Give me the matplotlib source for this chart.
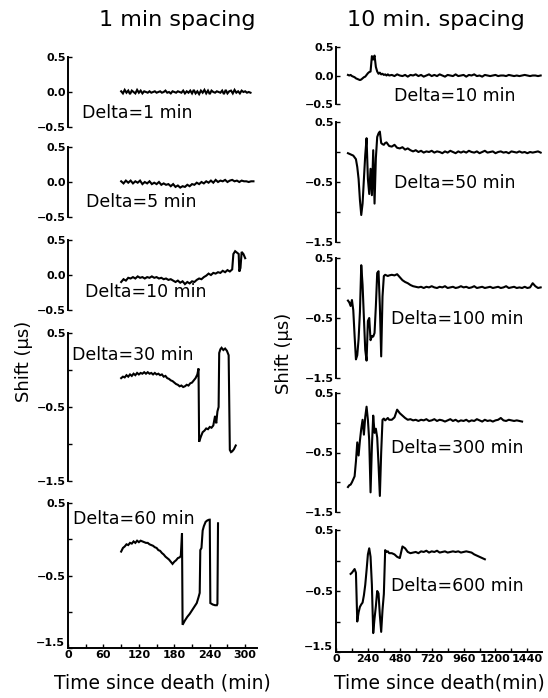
import numpy as np
import matplotlib
matplotlib.use("Agg")
import matplotlib.pyplot as plt
from matplotlib.ticker import FixedLocator
from matplotlib.transforms import ScaledTranslation

# ---------------- data: left column (1 min spacing) ----------------
L1_t = np.arange(90, 312, 3)
L1_v = [0.01,-0.02,0.03,-0.01,0.02,-0.03,0.02,0.00,-0.02,0.03,
        -0.01,0.02,-0.02,0.01,0.00,-0.01,0.01,-0.01,0.00,0.01,
        -0.01,0.00,0.01,-0.01,0.00,0.02,-0.01,0.00,-0.02,0.01,
        0.00,-0.01,0.01,0.00,-0.01,0.02,-0.02,0.01,-0.01,0.02,
        -0.02,0.03,-0.02,0.01,-0.03,0.02,-0.01,0.03,-0.02,0.02,
        -0.03,0.02,0.00,-0.01,0.01,0.00,-0.01,0.02,-0.03,0.03,
        -0.02,0.01,0.02,-0.02,0.03,-0.01,0.01,-0.02,0.02,0.00,
        0.01,-0.01,0.00,-0.01]

L2_t = np.arange(90, 318, 4)
L2_v = [0.01,-0.02,0.02,-0.01,0.02,-0.02,0.01,-0.01,0.02,-0.03,
        0.00,-0.02,0.01,-0.03,-0.01,-0.03,0.00,-0.04,-0.02,-0.04,
        -0.03,-0.06,-0.03,-0.07,-0.05,-0.08,-0.06,-0.07,-0.04,-0.06,
        -0.03,-0.04,-0.01,-0.03,0.00,-0.02,0.01,-0.01,0.02,-0.01,
        0.03,0.00,0.02,0.01,0.03,0.00,0.02,0.03,0.01,0.02,
        0.00,0.02,0.01,0.01,0.00,0.01,0.01]

L3_t = list(range(90, 278, 4)) + [278, 280, 283, 286, 289, 290, 292, 294, 297, 300]
L3_v = [-0.10,-0.06,-0.08,-0.04,-0.05,-0.03,-0.05,-0.02,-0.04,-0.03,
        -0.05,-0.03,-0.04,-0.02,-0.04,-0.03,-0.05,-0.04,-0.06,-0.05,
        -0.07,-0.06,-0.08,-0.10,-0.08,-0.11,-0.09,-0.13,-0.10,-0.12,
        -0.09,-0.10,-0.07,-0.05,-0.06,-0.03,-0.01,0.02,0.00,0.03,
        0.02,0.04,0.03,0.06,0.04,0.07,0.05,
        0.08,0.30,0.34,0.32,0.30,0.05,0.10,0.33,0.30,0.24]

L4_t = list(range(90, 220, 3)) + [221, 222, 225, 228, 231, 234, 237, 240, 243, 246, 249,
                                  251, 253, 255, 256, 258, 260, 263, 266, 269, 272,
                                  274, 276, 278, 281, 284]
L4_v = [-0.11,-0.09,-0.10,-0.07,-0.09,-0.06,-0.08,-0.05,-0.07,-0.04,
        -0.06,-0.04,-0.05,-0.03,-0.05,-0.03,-0.05,-0.04,-0.06,-0.04,
        -0.06,-0.05,-0.07,-0.06,-0.09,-0.08,-0.11,-0.12,-0.14,-0.15,
        -0.17,-0.19,-0.20,-0.22,-0.21,-0.23,-0.22,-0.20,-0.21,-0.18,
        -0.17,-0.14,-0.11,-0.06,0.02,
        -0.97,-0.90,-0.84,-0.82,-0.79,-0.80,-0.77,-0.78,-0.75,-0.62,
        -0.72,-0.56,-0.50,0.23,0.28,0.30,0.27,0.29,0.26,0.20,
        -1.08,-1.11,-1.10,-1.07,-1.02]

L5_t = list(range(90, 190, 3)) + [191, 193, 194, 198, 202, 206, 210, 214, 218, 221, 223,
                                  224, 226, 228, 230, 233, 236, 239, 240, 241, 245,
                                  249, 252, 253, 254]
L5_v = [-0.17,-0.12,-0.10,-0.07,-0.08,-0.05,-0.06,-0.03,-0.05,-0.02,
        -0.04,-0.02,-0.03,-0.04,-0.05,-0.05,-0.07,-0.08,-0.09,-0.11,
        -0.12,-0.15,-0.16,-0.19,-0.21,-0.24,-0.26,-0.28,-0.31,-0.34,
        -0.31,-0.29,-0.26,-0.25,
        -0.23,0.08,-1.18,-1.12,-1.07,-1.03,-0.98,-0.93,-0.88,-0.80,
        -0.74,-0.15,-0.12,0.12,0.18,0.24,0.26,0.27,0.27,-0.88,
        -0.90,-0.91,-0.91,-0.89,0.22]

# ---------------- data: right column (10 min spacing) ----------------
R_early_t = list(range(90, 410, 10))
R1_t = R_early_t + list(range(420, 1560, 20))
R1_v = [0.01,0.00,0.01,-0.01,-0.02,-0.03,-0.05,-0.06,-0.07,-0.08,
        -0.07,-0.05,-0.03,-0.02,0.01,0.04,0.06,0.07,0.34,0.28,
        0.35,0.15,0.07,0.03,0.05,0.02,0.03,0.01,0.02,0.00,0.02,0.00,
        0.01,-0.01,0.02,0.00,-0.01,0.01,-0.02,0.01,0.00,0.02,
        -0.01,0.01,-0.02,0.00,0.02,-0.01,0.01,-0.01,0.02,0.00,
        -0.02,0.01,0.00,-0.01,0.02,-0.01,0.00,0.01,-0.02,0.01,
        0.00,0.02,-0.01,0.00,-0.02,0.01,0.00,-0.01,0.00,0.01,
        -0.01,0.00,0.00,-0.01,0.01,0.00,-0.01,0.00,-0.01,0.00,
        0.01,0.00,-0.01,0.00,0.00,-0.01,0.00]

R2_t = R_early_t + list(range(420, 1560, 20))
R2_v = [-0.02,-0.03,-0.04,-0.05,-0.06,-0.09,-0.12,-0.25,-0.45,-0.80,
        -1.05,-0.86,-0.45,-0.05,0.23,-0.45,-0.70,-0.28,-0.72,0.03,
        -0.86,-0.10,0.25,0.31,0.34,0.15,0.13,0.12,0.15,0.16,0.13,0.10,
        0.09,0.12,0.07,0.06,0.08,0.04,0.06,0.03,0.01,0.03,
        0.00,0.02,-0.01,0.01,0.00,0.02,-0.01,0.01,0.00,-0.02,
        0.01,-0.01,0.02,0.00,-0.02,0.01,-0.01,0.01,-0.01,0.02,
        0.00,-0.01,0.01,-0.02,0.00,0.02,-0.01,0.00,0.01,-0.02,
        0.00,0.01,-0.01,0.00,-0.02,0.01,0.00,-0.01,0.01,-0.01,
        0.00,-0.02,0.00,-0.01,0.00,0.01,-0.01]

R3_t = R_early_t + list(range(420, 1560, 20))
R3_v = [-0.21,-0.24,-0.30,-0.20,-0.37,-0.80,-1.19,-1.12,-0.85,-0.40,
        0.38,0.05,-0.50,-1.03,-1.21,-0.55,-0.50,-0.87,-0.80,-0.81,
        -0.75,-0.30,0.25,0.28,-0.30,-1.14,-0.14,0.20,0.22,0.21,0.20,0.21,
        0.22,0.21,0.23,0.18,0.13,0.10,0.08,0.05,0.03,0.02,
        0.01,0.02,0.00,0.02,0.01,0.03,0.01,0.00,0.02,0.01,
        0.03,0.00,0.01,0.02,0.00,0.01,0.03,0.01,0.02,0.00,
        0.01,0.03,0.00,0.01,0.02,0.00,0.01,0.02,0.00,0.01,
        0.02,0.00,0.01,0.03,0.00,0.01,0.02,0.00,0.01,0.00,
        0.02,0.00,0.01,0.08,0.03,0.00,0.01]

R4_t = R_early_t + list(range(420, 1410, 20))
R4_v = [-1.08,-1.05,-1.04,-1.00,-0.95,-0.90,-0.65,-0.33,-0.55,-0.30,
        -0.10,0.05,-0.20,0.10,0.27,0.05,-0.30,-1.17,-0.40,0.12,
        -0.17,-0.10,-0.25,-0.70,-1.23,-0.50,0.05,0.07,0.04,0.06,0.08,0.05,
        0.05,0.09,0.22,0.16,0.12,0.08,0.05,0.06,0.04,0.05,
        0.03,0.05,0.04,0.06,0.03,0.04,0.06,0.03,0.05,0.04,
        0.02,0.04,0.06,0.03,0.05,0.02,0.04,0.03,0.05,0.02,
        0.04,0.03,0.06,0.04,0.02,0.05,0.03,0.04,0.02,0.04,
        0.05,0.08,0.04,0.03,0.05,0.04,0.03,0.04,0.03,0.02]

R5_t = list(range(110, 410, 10)) + list(range(420, 1130, 20))
R5_v = [-0.22,-0.20,-0.17,-0.14,-0.20,-1.00,-0.85,-0.76,-0.72,-0.69,
        -0.57,-0.40,-0.16,0.10,0.20,0.06,-0.40,-1.19,-0.95,-0.75,
        -0.50,-0.54,-0.90,-1.17,-0.81,-0.55,0.17,0.14,0.15,0.12,
        0.12,0.10,0.06,0.04,0.23,0.20,0.14,0.12,0.13,0.14,
        0.12,0.15,0.14,0.16,0.13,0.15,0.14,0.16,0.13,0.14,
        0.15,0.13,0.14,0.15,0.14,0.15,0.13,0.14,0.15,0.14,
        0.13,0.10,0.08,0.06,0.04,0.02]

left_series = [(L1_t, L1_v), (L2_t, L2_v), (L3_t, L3_v), (L4_t, L4_v), (L5_t, L5_v)]
right_series = [(R1_t, R1_v), (R2_t, R2_v), (R3_t, R3_v), (R4_t, R4_v), (R5_t, R5_v)]
left_labels = ["Delta=1 min", "Delta=5 min", "Delta=10 min", "Delta=30 min", "Delta=60 min"]
right_labels = ["Delta=10 min", "Delta=50 min", "Delta=100 min", "Delta=300 min", "Delta=600 min"]
left_label_pos = [(24, -0.30), (30, -0.29), (29, -0.24), (7, 0.20), (8, 0.28)]
right_label_pos = [(435, -0.36), (435, -0.52), (412, -0.52), (412, -0.43), (412, -0.42)]

left_xticks = [0, 60, 120, 180, 240, 300]
right_xticks = [0, 240, 480, 720, 960, 1200, 1440]

# ---------------- layout ----------------
W, H = 548, 698
fig = plt.figure(figsize=(W / 100, H / 100), dpi=100)

def rect(x0, x1, ytop, ybot):
    return [x0 / W, 1 - ybot / H, (x1 - x0) / W, (ybot - ytop) / H]

left_rows = [(57, 127), (147, 217), (240, 310), (333, 481), (503, 648)]
right_rows = [(47, 104), (122, 242), (258, 378), (393, 512), (530, 652)]
left_big = [False, False, False, True, True]
right_big = [False, True, True, True, True]

tickfont = dict(fontsize=8, fontweight="bold")

def setup(ax, big, xlim, last, xticks, xminor):
    ax.set_xlim(*xlim)
    for s in ["top", "right"]:
        ax.spines[s].set_visible(False)
    ax.spines["left"].set_linewidth(1.4)
    if big:
        ax.set_ylim(-1.5, 0.5)
        ax.set_yticks([0.5, -0.5, -1.5])
        ax.set_yticklabels(["0.5", "\u22120.5", "\u22121.5"], **tickfont)
        ax.yaxis.set_minor_locator(FixedLocator([0.0, -1.0]))
    else:
        ax.set_ylim(-0.5, 0.5)
        ax.set_yticks([0.5, 0.0, -0.5])
        ax.set_yticklabels(["0.5", "0.0", "\u22120.5"], **tickfont)
    ax.tick_params(axis="y", which="both", direction="in", length=3, width=1.0, pad=1.5)
    if last:
        ax.spines["bottom"].set_linewidth(1.4)
        ax.set_xticks(xticks)
        ax.set_xticklabels([str(v) for v in xticks], **tickfont)
        ax.xaxis.set_minor_locator(FixedLocator(xminor))
        ax.tick_params(axis="x", which="both", direction="in", length=3, width=1.0, pad=1.5)
        # lift the lowest y label a little so it clears the "0" x label
        lab = ax.get_yticklabels()[-1]
        lab.set_transform(lab.get_transform() +
                          ScaledTranslation(-1 / 72, 4 / 72, fig.dpi_scale_trans))
    else:
        ax.spines["bottom"].set_visible(False)
        ax.set_xticks([])
    ax.patch.set_alpha(0)

for i, ((yt, yb), big) in enumerate(zip(left_rows, left_big)):
    ax = fig.add_axes(rect(68, 257, yt, yb))
    t, v = left_series[i]
    ax.plot(t, v, color="black", lw=1.5, solid_joinstyle="miter")
    setup(ax, big, (0, 320), i == 4, left_xticks, [30, 90, 150, 210, 270])
    ax.text(*left_label_pos[i], left_labels[i], fontsize=12.5, va="center", ha="left")
    if i == 4:
        ax.set_xlabel("Time since death (min)", fontsize=13.5, labelpad=10)

for i, ((yt, yb), big) in enumerate(zip(right_rows, right_big)):
    ax = fig.add_axes(rect(336, 542, yt, yb))
    t, v = right_series[i]
    ax.plot(t, v, color="black", lw=1.5)
    setup(ax, big, (0, 1550), i == 4, right_xticks, [120, 360, 600, 840, 1080, 1320])
    ax.text(*right_label_pos[i], right_labels[i], fontsize=12.5, va="center", ha="left")
    if i == 4:
        ax.set_xlabel("Time since death(min)", fontsize=13.5, labelpad=7)

fig.text(177 / W, 1 - 20 / H, "1 min spacing", fontsize=16, ha="center", va="center")
fig.text(436 / W, 1 - 20 / H, "10 min. spacing", fontsize=16, ha="center", va="center")
fig.text(24 / W, 1 - 361 / H, "Shift (\u03bcs)", fontsize=13, rotation=90, ha="center", va="center")
fig.text(284 / W, 1 - 353 / H, "Shift (\u03bcs)", fontsize=13, rotation=90, ha="center", va="center")

fig.savefig("out.png", dpi=100, facecolor="white")
